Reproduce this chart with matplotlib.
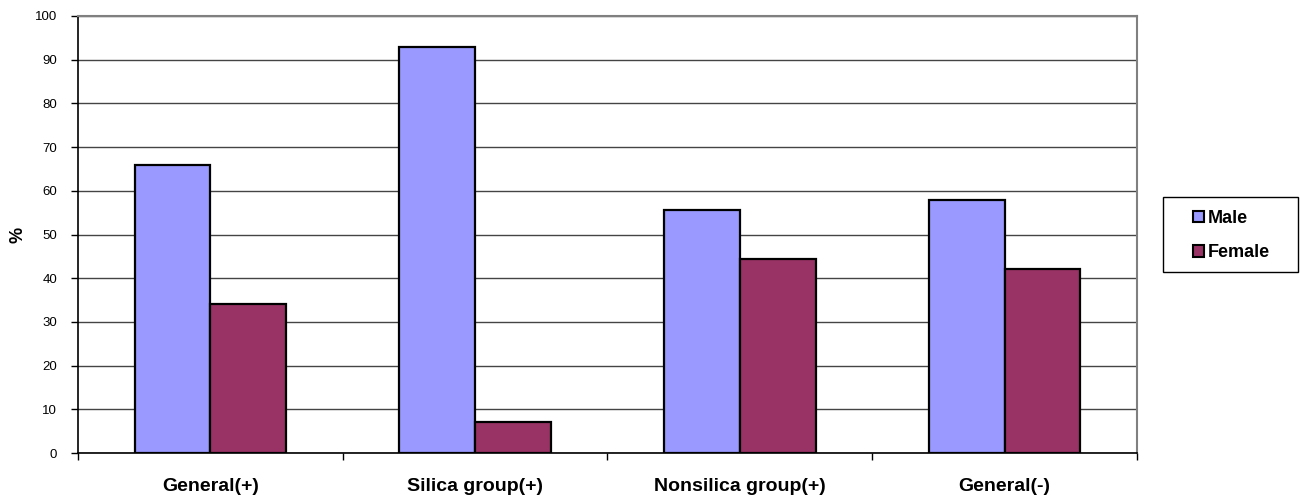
import matplotlib
matplotlib.use("Agg")
import matplotlib.pyplot as plt
from matplotlib.patches import Rectangle
import numpy as np

plt.rcParams['font.family'] = ['Liberation Sans', 'DejaVu Sans']

categories = ["General(+)", "Silica group(+)", "Nonsilica group(+)", "General(-)"]
male = [66, 93, 55.7, 58]
female = [34, 7, 44.3, 42]
series_names = ["Male", "Female"]
colors = ["#9999FF", "#993366"]

fig = plt.figure(figsize=(13, 4.95), dpi=100)
ax = fig.add_axes([0.06, 0.0848, 0.8146, 0.8829])

x = np.arange(len(categories))
w = 1 / 3.5
ax.bar(x - w / 2, male, width=w, color=colors[0], edgecolor="black", linewidth=1.6,
       label=series_names[0], zorder=3)
ax.bar(x + w / 2, female, width=w, color=colors[1], edgecolor="black", linewidth=1.6,
       label=series_names[1], zorder=3)

ax.set_xlim(-0.5, len(categories) - 0.5)
ax.set_ylim(0, 100)
ax.set_yticks(np.arange(0, 101, 10))
ax.yaxis.grid(True, color="#444444", linewidth=1.0, zorder=0)
ax.set_axisbelow(True)

# Category labels sit between boundary tick marks
ax.set_xticks(np.arange(-0.5, len(categories), 1.0))
ax.set_xticklabels([])
ax.set_xticks(x, minor=True)
ax.set_xticklabels(categories, minor=True, fontsize=14, fontweight="bold")
ax.tick_params(axis="x", which="minor", length=0, pad=18)
ax.tick_params(axis="x", which="major", length=5, width=1, color="black", direction="out")
ax.tick_params(axis="y", length=5, width=1, direction="out", labelsize=9.5, pad=10)

for s in ["left", "bottom"]:
    ax.spines[s].set_color("black")
    ax.spines[s].set_linewidth(1.2)
for s in ["top", "right"]:
    ax.spines[s].set_color("#808080")
    ax.spines[s].set_linewidth(1.5)

ax.set_ylabel("%", fontsize=13, fontweight="bold")
ax.yaxis.set_label_coords(-0.049, 0.5)

# Legend entries without frame, boxed by a separate rectangle
leg = fig.legend(loc="center left", bbox_to_anchor=(1193 / 1300, (495 - 235.5) / 495),
                 frameon=False, prop={"weight": "bold", "size": 13},
                 handlelength=0.62, handleheight=0.62, handletextpad=0.2,
                 labelspacing=0.95, borderpad=0, borderaxespad=0)
for h in leg.legend_handles:
    h.set_linewidth(1.5)
fig.patches.append(Rectangle((1163 / 1300, (495 - 272) / 495), 135 / 1300, 75 / 495,
                             transform=fig.transFigure, fill=False,
                             edgecolor="black", linewidth=1.0))

fig.savefig("out.png", dpi=100, facecolor="white")
